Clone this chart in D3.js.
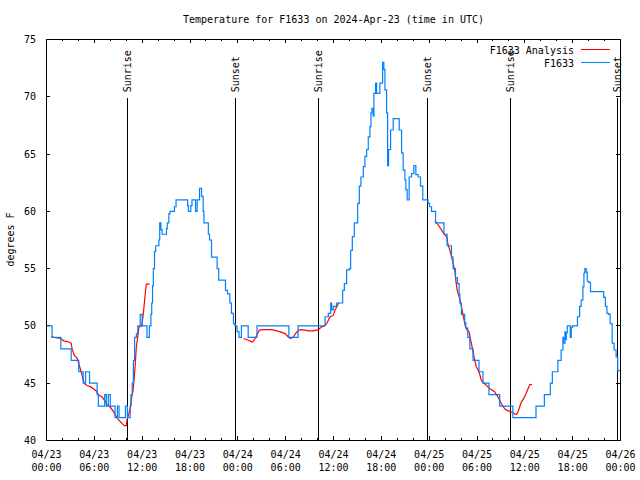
<!DOCTYPE html>
<html>
<head>
<meta charset="utf-8">
<script src="https://cdn.jsdelivr.net/npm/d3@7"></script>
<style>
  html, body { margin: 0; padding: 0; background: #fff; }
  svg { display: block; }
  text { font-family: "DejaVu Sans Mono", "Liberation Mono", monospace; font-size: 10px; fill: #000; }
</style>
</head>
<body>
<svg id="chart" width="640" height="480"></svg>
<script>
// ---------------- data ----------------
const chartTitle = "Temperature for F1633 on 2024-Apr-23 (time in UTC)";
const yLabel = "degrees F";
const seriesNames = ["F1633 Analysis", "F1633"];
const seriesColors = ["#ff0000", "#0080ff"];

// x ticks (hours since 04/23 00:00 UTC)
const xTickHours = [0, 6, 12, 18, 24, 30, 36, 42, 48, 54, 60, 66, 72];
const xTickDates = ["04/23","04/23","04/23","04/23","04/24","04/24","04/24","04/24","04/25","04/25","04/25","04/25","04/26"];
const xTickTimes = ["00:00","06:00","12:00","18:00","00:00","06:00","12:00","18:00","00:00","06:00","12:00","18:00","00:00"];
const xMinorHours = d3.range(0, 73, 2);
const yTicks = [40, 45, 50, 55, 60, 65, 70, 75];

// sun events [hour, label]
const sunHours = [10.18, 23.67, 34.1, 47.75, 58.14, 71.66];
const sunLabels = ["Sunrise", "Sunset", "Sunrise", "Sunset", "Sunrise", "Sunset"];

// observed F1633 temperature [hour, degF] (step data)
const observed = [
  [0,50],[0.7,49],[1.8,48],[3.1,47],[4.05,46],[4.6,45],[4.9,46],[5.4,45],[6.35,44],[6.5,43],
  [7.3,44],[7.5,43],[7.75,44],[8.0,43],[8.6,42],[8.9,43],[9.1,42],[9.9,43],[10.15,42],[10.5,43],
  [10.6,44],[10.75,45],[10.9,47],[11.05,49],[11.27,49.3],[11.45,50],[11.75,51],[12.0,50],[12.6,49],[12.9,50],
  [13.1,51],[13.2,52],[13.3,53.5],[13.4,55],[13.55,56.5],[13.7,57],[14.1,57.5],[14.2,59],[14.35,58.4],[14.5,58],
  [15.05,58.5],[15.15,59],[15.35,59.8],[15.5,60],[16.05,60.4],[16.25,61],[17.7,60.5],[17.8,60],[18.1,60.5],[18.25,61],
  [18.7,60],[18.9,61],[19.2,62],[19.45,61.3],[19.65,60],[19.75,59],[20.3,58],[20.45,57.5],[20.7,56],[21.4,55],
  [21.6,54],[22.45,53.1],[22.7,52.8],[23.0,52],[23.2,51.1],[23.45,50.2],[23.65,50],[23.9,49.5],[24.15,49],[24.45,50],
  [25.3,49],[26.4,50],[30.4,49],[31.55,50],[34.94,50.8],[35.35,51.1],[35.65,52],[35.77,51.4],[35.98,51.7],[36.4,52],
  [37.15,53.1],[37.36,53.7],[37.65,54.9],[37.98,55],[38.15,56.6],[38.36,57.8],[38.61,59],[39.03,60.7],[39.24,62.2],[39.44,63],
  [39.74,63.9],[39.94,64.8],[40.16,65.4],[40.36,66.5],[40.57,67.4],[40.7,68.6],[40.82,69],[40.99,68.3],[41.07,70.3],[41.28,71.2],
  [41.41,70.3],[41.82,71.2],[42.16,73],[42.32,72.4],[42.45,70.6],[42.66,68.6],[42.79,64],[42.91,65.4],[43.16,67.1],[43.49,68.1],
  [44.24,67.1],[44.54,65.1],[44.74,63.6],[44.95,62.75],[45.08,61.9],[45.24,61],[45.49,63],[45.79,63.3],[46.08,64],[46.33,63.2],
  [46.62,63],[46.92,62.2],[47.2,61],[47.85,60.7],[48.05,60.4],[48.3,60],[48.8,59],[49.85,58],[50.25,57],[50.8,56],
  [51.0,55],[51.3,54.2],[51.55,53.7],[51.75,52.8],[51.85,52],[52.05,51],[52.45,50.3],[52.6,49.8],[52.85,49],[53.1,48],
  [53.5,47],[54.25,46],[54.75,45],[55.5,44],[56.85,43],[58.5,42],[61.4,43],[62.45,44],[63.2,45],[63.45,46],
  [64.15,47],[64.55,47.9],[64.78,49],[64.86,48.5],[65.03,49.5],[65.07,48.8],[65.2,49.4],[65.32,50],[65.7,49],[65.82,49.9],
  [66.0,50],[66.6,50.8],[66.87,51.7],[67.07,52.25],[67.28,53.4],[67.41,54.6],[67.53,55],[67.7,54.7],[67.83,53.9],[68.0,53.8],
  [68.24,53],[69.9,52.5],[70.1,51.7],[70.3,51.1],[70.5,51],[70.7,50.2],[70.95,48.5],[71.2,47.9],[71.45,47.3],[71.65,46.1],[72,46]
];

// analysis runs [hour, degF]
const analysisRun1 = [
  [0.58,49.05],[1.75,48.9],[2.17,48.7],[2.8,48.6],[3.09,48.5],[3.21,48.0],[3.51,47.4],[3.84,47.2],[4.05,46.7],[4.26,46.2],
  [4.46,45.7],[4.59,45.3],[4.76,44.96],[5.09,44.8],[5.51,44.7],[5.93,44.5],[6.26,44.3],[6.55,43.97],[6.97,43.8],[7.39,43.4],
  [7.6,43.1],[8.01,42.9],[8.43,42.5],[8.64,42.2],[9.05,41.8],[9.47,41.5],[9.77,41.3],[10.02,41.3],[10.1,41.8],[10.31,42.3],
  [10.52,42.9],[10.73,43.97],[10.85,44.3],[11.02,45.6],[11.14,46.7],[11.27,48.2],[11.44,49.0],[11.6,49.9],[11.95,50.0],[12.1,50.8],
  [12.27,51.96],[12.4,52.9],[12.52,53.65],[12.94,53.65]
];
const analysisRun2 = [
  [24.71,48.9],[25.34,48.75],[25.75,48.6],[25.96,48.69],[26.17,48.9],[26.46,49.33],[26.71,49.63],[27.21,49.68],[28.26,49.68],[28.88,49.57],
  [29.3,49.48],[29.93,49.33],[30.34,49.04],[30.64,48.9],[30.97,49.04],[31.39,49.48],[31.81,49.68],[32.43,49.63],[32.85,49.57],[33.48,49.57],
  [34.1,49.68],[34.52,49.92],[34.94,50.06],[35.15,50.21],[35.35,50.5],[35.56,50.79],[35.98,50.94],[36.19,51.38],[36.61,51.96],[36.73,52.0]
];
const analysisRun3 = [
  [48.71,59.1],[48.8,59.1],[49.13,58.81],[49.42,58.52],[49.67,58.23],[49.84,58.08],[50.17,57.79],[50.38,57.06],[50.59,56.63],[50.8,56.04],
  [51.0,55.46],[51.21,54.88],[51.34,54.0],[51.51,53.13],[51.76,52.54],[51.97,51.96],[52.13,51.38],[52.34,50.65],[52.55,49.92],[52.76,49.63],
  [53.01,49.48],[53.3,48.46],[53.51,47.73],[53.72,47.0],[53.93,46.42],[54.26,45.98],[54.55,45.25],[54.85,45.02],[55.18,44.81],[55.6,44.52],
  [55.93,44.38],[56.22,44.23],[56.64,43.79],[56.85,43.5],[57.18,43.06],[57.48,42.77],[57.77,42.63],[58.1,42.57],[58.52,42.4],[58.94,42.27],
  [59.14,42.48],[59.35,42.92],[59.56,43.35],[59.85,43.65],[60.1,44.02],[60.4,44.52],[60.61,44.87],[60.9,44.9]
];

// ---------------- drawing ----------------
const svg = d3.select("#chart");
const L = 46, R = 620, T = 39, B = 440;
const x = d3.scaleLinear().domain([0, 72]).range([L, R]);
const y = d3.scaleLinear().domain([40, 75]).range([B, T]);

// title
svg.append("text").attr("x", (L + R) / 2 + 0.5).attr("y", 23)
  .attr("text-anchor", "middle").text(chartTitle);

// y label
svg.append("text").attr("transform", "translate(14," + ((T + B) / 2) + ") rotate(-90)")
  .attr("text-anchor", "middle").text(yLabel);

// axes
function styleAxis(g) {
  g.select(".domain").remove();
  g.selectAll("line").attr("stroke", "#000").attr("shape-rendering", "crispEdges");
  g.selectAll("text").style("font-family", null).style("font-size", null).attr("font-family", null).attr("font-size", null);
}
svg.append("g").attr("transform", `translate(0,${B})`)
  .call(d3.axisBottom(x).tickValues(xMinorHours).tickSize(-2).tickSizeOuter(0).tickFormat(""))
  .call(styleAxis);
svg.append("g").attr("transform", `translate(0,${T})`)
  .call(d3.axisTop(x).tickValues(xMinorHours).tickSize(-2).tickSizeOuter(0).tickFormat(""))
  .call(styleAxis);
svg.append("g").attr("transform", `translate(0,${T})`)
  .call(d3.axisTop(x).tickValues(xTickHours).tickSize(-4).tickSizeOuter(0).tickFormat(""))
  .call(styleAxis);

const xAxis = svg.append("g").attr("transform", `translate(0,${B})`)
  .call(d3.axisBottom(x).tickValues(xTickHours).tickSize(-4).tickSizeOuter(0).tickFormat(""))
  .call(styleAxis);
xAxis.selectAll(".tick").each(function(d, i) {
  const t = d3.select(this).append("text").attr("text-anchor", "middle").attr("fill", "#000");
  t.append("tspan").attr("x", 0).attr("y", 18).text(xTickDates[i]);
  t.append("tspan").attr("x", 0).attr("y", 31).text(xTickTimes[i]);
});

svg.append("g").attr("transform", `translate(${L},0)`)
  .call(d3.axisLeft(y).tickValues(yTicks).tickSize(-4).tickSizeOuter(0).tickPadding(10).tickFormat(d3.format("d")))
  .call(styleAxis)
  .selectAll("text").attr("dy", "0.35em").attr("fill", "#000");
svg.append("g").attr("transform", `translate(${R},0)`)
  .call(d3.axisRight(y).tickValues(yTicks).tickSize(-4).tickSizeOuter(0).tickFormat(""))
  .call(styleAxis);

// sun lines
sunHours.forEach((h, i) => {
  const sx = Math.round(x(h)) + 0.5;
  svg.append("line").attr("x1", sx).attr("x2", sx).attr("y1", y(70) + 2).attr("y2", B + 0.5)
    .attr("stroke", "#000").attr("shape-rendering", "crispEdges");
  svg.append("text").attr("transform", `translate(${sx},${y(70) - 4}) rotate(-90)`)
    .attr("text-anchor", "start").attr("dy", "0.35em").text(sunLabels[i]);
});

// data lines
const stepLine = d3.line().x(d => x(d[0]) + 0.5).y(d => y(d[1]) + 0.5).curve(d3.curveStepAfter);
const linLine = d3.line().x(d => x(d[0]) + 0.5).y(d => y(d[1]) + 0.5);

[analysisRun1, analysisRun2, analysisRun3].forEach(run => {
  svg.append("path").datum(run).attr("d", linLine)
    .attr("fill", "none").attr("stroke", seriesColors[0]).attr("stroke-width", 1.2);
});
svg.append("path").datum(observed).attr("d", stepLine)
  .attr("fill", "none").attr("stroke", seriesColors[1]).attr("stroke-width", 1.2);

// frame
svg.append("rect").attr("x", L + 0.5).attr("y", T + 0.5).attr("width", R - L).attr("height", B - T)
  .attr("fill", "none").attr("stroke", "#000").attr("shape-rendering", "crispEdges");

// legend
const legendY = [50, 63];
seriesNames.forEach((name, i) => {
  svg.append("text").attr("x", 574).attr("y", legendY[i]).attr("dy", "0.35em")
    .attr("text-anchor", "end").text(name);
  svg.append("line").attr("x1", 581).attr("x2", 610).attr("y1", legendY[i] - 0.5).attr("y2", legendY[i] - 0.5)
    .attr("stroke", seriesColors[i]).attr("shape-rendering", "crispEdges");
});
</script>
</body>
</html>
